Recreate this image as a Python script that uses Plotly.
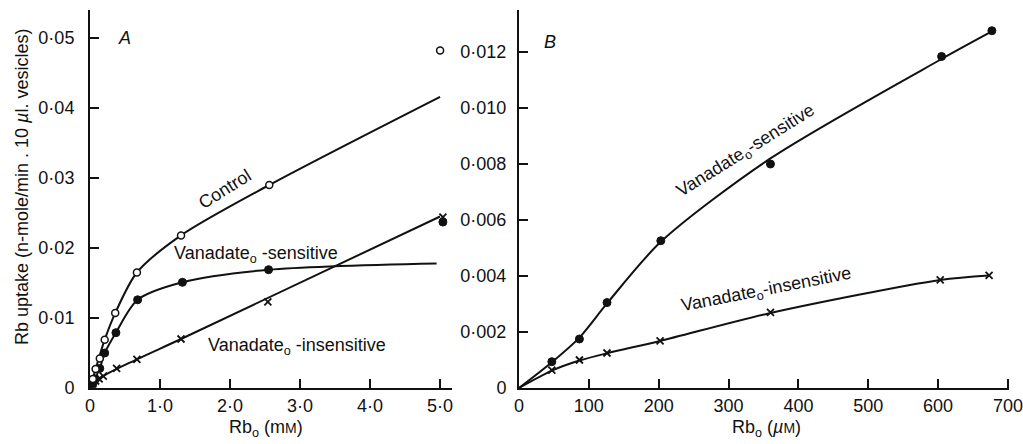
import plotly.graph_objects as go

# ---------------- Panel A: Rb uptake vs external Rb (mM) ----------------
a_control_x = [0.04, 0.08, 0.14, 0.21, 0.36, 0.67, 1.3, 2.56, 5.0]
a_control_y = [0.0013, 0.0027, 0.0042, 0.0069, 0.0107, 0.0165, 0.0218, 0.0290, 0.0482]

a_sens_x = [0.04, 0.08, 0.14, 0.21, 0.37, 0.68, 1.32, 2.55, 5.04]
a_sens_y = [0.0006, 0.0013, 0.0028, 0.0050, 0.0079, 0.0126, 0.0151, 0.0169, 0.0237]

a_insens_x = [0.04, 0.08, 0.13, 0.19, 0.38, 0.67, 1.30, 2.54, 5.04]
a_insens_y = [0.0006, 0.0010, 0.0013, 0.0017, 0.0028, 0.0041, 0.0070, 0.0123, 0.0244]

# fitted curves
a_control_fit_x = [0, 0.08, 0.21, 0.36, 0.67, 1.3, 2.56, 5.0]
a_control_fit_y = [0, 0.0027, 0.0069, 0.0107, 0.0165, 0.0218, 0.0290, 0.0416]
a_sens_fit_x = [0, 0.14, 0.21, 0.37, 0.68, 1.32, 2.55, 4.95]
a_sens_fit_y = [0, 0.0028, 0.0050, 0.0079, 0.0126, 0.0151, 0.0169, 0.0178]
a_insens_fit_x = [0, 0.19, 0.67, 1.3, 5.0]
a_insens_fit_y = [0, 0.0017, 0.0041, 0.0070, 0.0245]

a_xticks = [0, 1, 2, 3, 4, 5]
a_xticktext = ["0", "1·0", "2·0", "3·0", "4·0", "5·0"]
a_yticks = [0, 0.01, 0.02, 0.03, 0.04, 0.05]
a_yticktext = ["0", "0·01", "0·02", "0·03", "0·04", "0·05"]

# ---------------- Panel B: Rb uptake vs external Rb (µM) ----------------
b_sens_x = [47, 86.5, 126, 203, 360, 605, 677]
b_sens_y = [0.00094, 0.00175, 0.00305, 0.00526, 0.00800, 0.01184, 0.01276]
b_insens_x = [47, 86.5, 126, 202, 360, 603, 673]
b_insens_y = [0.00064, 0.00100, 0.00125, 0.00168, 0.00270, 0.00386, 0.00402]

b_sens_fit_x = [0, 47, 86.5, 126, 203, 360, 605, 673]
b_sens_fit_y = [0, 0.00092, 0.00180, 0.00302, 0.00522, 0.00820, 0.01175, 0.01268]
b_insens_fit_x = [0, 47, 86.5, 126, 202, 360, 603, 673]
b_insens_fit_y = [0, 0.00062, 0.00098, 0.00124, 0.00168, 0.00268, 0.00386, 0.00402]

b_xticks = [0, 100, 200, 300, 400, 500, 600, 700]
b_xticktext = ["0", "100", "200", "300", "400", "500", "600", "700"]
b_yticks = [0, 0.002, 0.004, 0.006, 0.008, 0.010, 0.012]
b_yticktext = ["0", "0·002", "0·004", "0·006", "0·008", "0·010", "0·012"]

FONT = "Liberation Sans, Arial, sans-serif"
BLACK = "#111111"
LW = 2

fig = go.Figure()

def curve(x, y, xa, ya):
    fig.add_trace(go.Scatter(x=x, y=y, xaxis=xa, yaxis=ya, mode="lines",
                             line=dict(color=BLACK, width=LW, shape="spline", smoothing=0.8),
                             hoverinfo="skip", showlegend=False))

def points(x, y, xa, ya, symbol, size, fill, lw):
    fig.add_trace(go.Scatter(x=x, y=y, xaxis=xa, yaxis=ya, mode="markers",
                             marker=dict(symbol=symbol, size=size, color=fill,
                                         line=dict(color=BLACK, width=lw)),
                             cliponaxis=False, showlegend=False))

# Panel A
curve(a_control_fit_x, a_control_fit_y, "x", "y")
curve(a_sens_fit_x, a_sens_fit_y, "x", "y")
curve(a_insens_fit_x, a_insens_fit_y, "x", "y")
points(a_insens_x, a_insens_y, "x", "y", "x-thin", 7, BLACK, 1.8)
points(a_sens_x, a_sens_y, "x", "y", "circle", 8, BLACK, 1)
points(a_control_x, a_control_y, "x", "y", "circle", 7, "white", 1.5)

# Panel B
curve(b_sens_fit_x, b_sens_fit_y, "x2", "y2")
curve(b_insens_fit_x, b_insens_fit_y, "x2", "y2")
points(b_insens_x, b_insens_y, "x2", "y2", "x-thin", 7, BLACK, 1.8)
points(b_sens_x, b_sens_y, "x2", "y2", "circle", 8, BLACK, 1)

# plot area: 90..1008 px horizontally, 10..388 px vertically
L, R, T, B = 90, 14, 10, 56
W, H = 1023, 444
pw = W - L - R

def axis_common():
    return dict(showline=True, linecolor=BLACK, linewidth=LW, mirror=False,
                ticks="inside", ticklen=9, tickwidth=LW, tickcolor=BLACK,
                showgrid=False, zeroline=False, tickmode="array",
                tickfont=dict(family=FONT, size=18, color=BLACK),
                automargin=False, fixedrange=True)

fig.update_layout(
    width=W, height=H,
    margin=dict(l=L, r=R, t=T, b=B, pad=0),
    paper_bgcolor="white", plot_bgcolor="white",
    font=dict(family=FONT, size=18, color=BLACK),
    xaxis=dict(axis_common(), domain=[0, (452 - L) / pw], range=[0, 5.17],
               tickvals=a_xticks, ticktext=a_xticktext, anchor="y", ticklabelstandoff=0),
    yaxis=dict(axis_common(), domain=[0, 1], range=[0, 0.054],
               tickvals=a_yticks, ticktext=a_yticktext, anchor="x", ticklabelstandoff=10),
    xaxis2=dict(axis_common(), domain=[(519 - L) / pw, 1], range=[0, 701.5],
                tickvals=b_xticks, ticktext=b_xticktext, anchor="y2", ticklabelstandoff=0),
    yaxis2=dict(axis_common(), domain=[0, 1], range=[0, 0.0135],
                tickvals=b_yticks, ticktext=b_yticktext, anchor="x2", ticklabelstandoff=7),
)

def label(text, x, y, xref, yref, angle=0, size=18, italic=False):
    fig.add_annotation(text=text, x=x, y=y, xref=xref, yref=yref, showarrow=False,
                       textangle=angle, xanchor="center", yanchor="middle",
                       font=dict(family=FONT, size=size, color=BLACK,
                                 style="italic" if italic else "normal"))

# series labels
label("Control", 1.93, 0.0284, "x", "y", angle=-32)
label("Vanadate<sub>o</sub> -sensitive", 2.37, 0.0191, "x", "y")
label("Vanadate<sub>o</sub> -insensitive", 2.95, 0.0059, "x", "y")
label("Vanadate<sub>o</sub>-sensitive", 325, 0.00843, "x2", "y2", angle=-32)
label("Vanadate<sub>o</sub>-insensitive", 354, 0.0035, "x2", "y2", angle=-11)

# panel letters
label("A", 0.49, 0.0500, "x", "y", italic=True)
label("B", 44, 0.01236, "x2", "y2", italic=True)

# axis titles
def px(xp):
    return (xp - L) / pw

def py(yp):
    return (H - B - yp) / (H - T - B)

label("Rb uptake (n-mole/min . 10 <i>µ</i>l. vesicles)", px(22), py(187), "paper", "paper", angle=-90)
label("Rb<sub>o</sub> (m<span style='font-size:14px'>M</span>)", px(266), py(428), "paper", "paper")
label("Rb<sub>o</sub> (<i>µ</i><span style='font-size:14px'>M</span>)", px(766), py(428), "paper", "paper")

fig.write_html("out.html", config={"displayModeBar": False})
